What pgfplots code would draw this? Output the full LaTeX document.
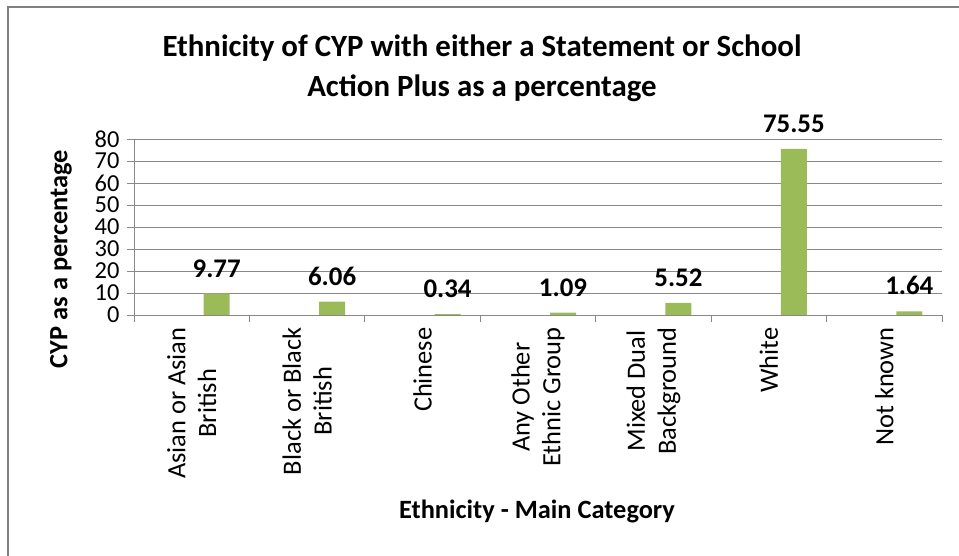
\documentclass[border=0pt]{standalone}
\usepackage{fontspec}
\setmainfont{Carlito}
\usepackage{pgfplots}
\pgfplotsset{compat=1.18}
\definecolor{bargreen}{HTML}{9BBB59}
\definecolor{gridgray}{HTML}{888888}
\definecolor{framegray}{HTML}{808080}
\begin{document}
\begin{tikzpicture}[x=1bp,y=1bp]
\path[use as bounding box] (0,0) rectangle (959,556);
\draw[framegray, line width=2bp] (8,0) -- (8,549) -- (959,549);
\begin{axis}[
  at={(134bp,241bp)}, anchor=south west,
  scale only axis, width=808bp, height=176bp,
  xmin=-0.5, xmax=6.5, ymin=0, ymax=80,
  ytick={0,10,...,80},
  xtick={-0.5,0.5,...,6.5},
  xticklabels={,,,,,,,,},
  extra x ticks={0,1,2,3,4,5,6},
  extra x tick labels={{Asian or Asian\\British},{Black or Black\\British},Chinese,{Any Other\\Ethnic Group},{Mixed Dual\\Background},White,Not known},
  extra x tick style={major tick length=0pt, grid=none},
  axis x line*=bottom, axis y line*=left,
  axis line style={-, gridgray, line width=0.8bp},
  ymajorgrids, grid style={gridgray, line width=0.8bp},
  tick align=outside, major tick length=7bp,
  tick style={gridgray, line width=0.8bp},
  /pgf/number format/assume math mode=true,
  yticklabel style={font=\fontsize{24.5}{24.5}\selectfont, inner ysep=0pt, xshift=-4bp},
  xticklabel style={font=\fontsize{26.5}{31}\selectfont, yshift=-9bp, rotate=90, anchor=east, align=center},
  ybar, bar width=26bp, bar shift=25bp,
  nodes near coords,
  nodes near coords style={font=\fontsize{27}{30}\bfseries, anchor=south, inner sep=0pt, yshift=16bp,
    /pgf/number format/.cd, fixed, fixed zerofill, precision=2},
  clip=false,
]
\addplot[fill=bargreen, draw=none] coordinates {
  (0,9.77) (1,6.06) (2,0.34) (3,1.09) (4,5.52) (5,75.55) (6,1.64)
};
\end{axis}
\node[font=\fontsize{31}{40}\bfseries, align=center] at (482,488) {Ethnicity of CYP with either a Statement or School\\Action Plus as a percentage};
\node[font=\fontsize{26.5}{30}\bfseries, rotate=90] at (61,297) {CYP as a percentage};
\node[font=\fontsize{26.5}{30}\bfseries] at (537,45) {Ethnicity - Main Category};
\end{tikzpicture}
\end{document}
